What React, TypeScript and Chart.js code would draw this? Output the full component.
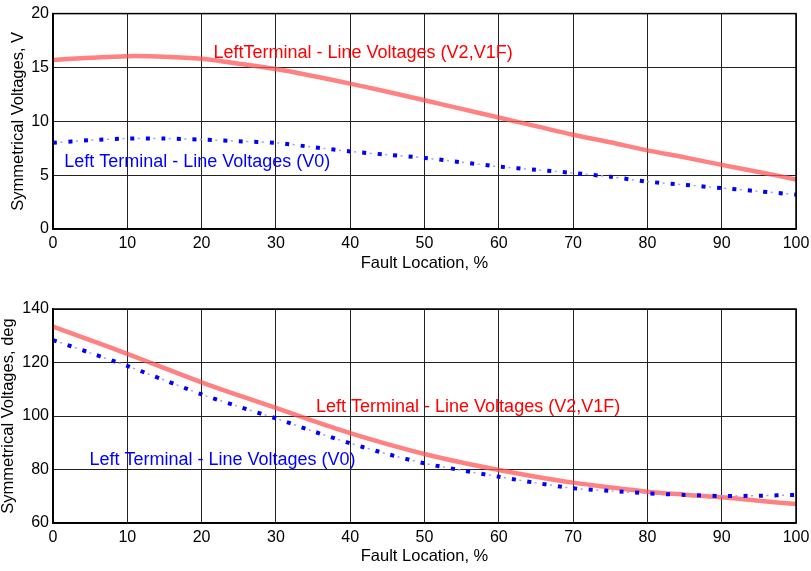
import React, { useEffect, useRef } from "react";
import { Chart, registerables } from "chart.js";

Chart.register(...registerables);

const faultLocation = [0, 5, 10, 15, 20, 25, 30, 35, 40, 45, 50, 55, 60, 65, 70, 75, 80, 85, 90, 95, 100];

const magV2V1F = [15.7, 15.9, 16.05, 16.0, 15.8, 15.35, 14.85, 14.2, 13.5, 12.75, 11.95, 11.15, 10.35, 9.55, 8.75, 8.05, 7.3, 6.65, 5.95, 5.3, 4.6];
const magV0 = [8.0, 8.25, 8.4, 8.4, 8.3, 8.15, 8.0, 7.6, 7.2, 6.9, 6.6, 6.2, 5.8, 5.5, 5.2, 4.85, 4.4, 4.1, 3.8, 3.5, 3.2];

const angV2V1F = [133.4, 128.4, 123.2, 117.9, 112.6, 107.7, 103.0, 98.2, 93.6, 89.5, 85.8, 82.6, 79.8, 77.3, 75.1, 73.3, 71.7, 70.6, 69.6, 68.3, 67.1];
const angV0 = [128.4, 123.6, 118.7, 113.4, 108.1, 103.5, 99.1, 94.3, 89.8, 85.8, 82.3, 79.7, 77.3, 75.0, 73.0, 72.0, 71.1, 70.5, 70.1, 70.2, 70.5];

const xTicks = [0, 10, 20, 30, 40, 50, 60, 70, 80, 90, 100];
const magTicks = [0, 5, 10, 15, 20];
const angTicks = [60, 80, 100, 120, 140];

const xTitle = "Fault Location, %";
const magTitle = "Symmetrical Voltages, V";
const angTitle = "Symmetrical Voltages, deg";

const topLabels = [
  { text: "LeftTerminal - Line Voltages (V2,V1F)", x: 21.6, y: 16.3, color: "#ff0000" },
  { text: "Left Terminal - Line Voltages (V0)", x: 1.5, y: 6.2, color: "#0000ff" },
];
const bottomLabels = [
  { text: "Left Terminal - Line Voltages (V2,V1F)", x: 35.4, y: 103.4, color: "#ff0000" },
  { text: "Left Terminal - Line Voltages (V0)", x: 4.9, y: 83.5, color: "#0000ff" },
];

const FONT = "'Liberation Sans', Arial, sans-serif";

const frameAndLabels = {
  id: "frameAndLabels",
  afterDatasetsDraw(chart: any, _args: any, opts: any) {
    const { ctx, chartArea, scales } = chart;
    ctx.save();
    ctx.strokeStyle = "#000";
    ctx.lineWidth = 1.5;
    ctx.strokeRect(chartArea.left, chartArea.top, chartArea.right - chartArea.left, chartArea.bottom - chartArea.top);
    ctx.font = `18px ${FONT}`;
    ctx.textAlign = "left";
    ctx.textBaseline = "middle";
    for (const l of opts.items || []) {
      ctx.fillStyle = l.color;
      ctx.fillText(l.text, scales.x.getPixelForValue(l.x), scales.y.getPixelForValue(l.y));
    }
    ctx.restore();
  },
};

function makeConfig(
  red: number[],
  blue: number[],
  yTicks: number[],
  yTitle: string,
  labels: any[],
  padTop: number,
  xHeight: number,
  xTitlePad: number,
  yTitlePad: number
): any {
  const pts = (arr: number[]) => faultLocation.map((x, i) => ({ x, y: arr[i] }));
  return {
    type: "line",
    data: {
      datasets: [
        {
          data: pts(blue),
          borderColor: "#9aa0ff",
          borderWidth: 1.5,
          borderDash: [2, 13.5],
          borderDashOffset: -7.5,
          pointRadius: 0,
          tension: 0.3,
        },
        {
          data: pts(blue),
          borderColor: "#0000ff",
          borderWidth: 4,
          borderDash: [4, 11.5],
          pointRadius: 0,
          tension: 0.3,
        },
        {
          data: pts(red),
          borderColor: "rgba(255,80,80,0.72)",
          borderWidth: 4.5,
          pointRadius: 0,
          tension: 0.3,
        },
      ],
    },
    options: {
      responsive: false,
      animation: false,
      devicePixelRatio: 1,
      layout: { padding: { top: padTop, right: 15, left: 0, bottom: 0 } },
      plugins: {
        legend: { display: false },
        tooltip: { enabled: false },
        frameAndLabels: { items: labels },
      },
      scales: {
        x: {
          type: "linear",
          min: 0,
          max: 100,
          afterBuildTicks: (s: any) => {
            s.ticks = xTicks.map((v) => ({ value: v }));
          },
          afterFit: (s: any) => {
            s.height = xHeight;
            s.paddingRight = 0;
          },
          ticks: { color: "#000", font: { family: FONT, size: 16 }, padding: 5, maxRotation: 0, autoSkip: false },
          grid: { color: "#222", lineWidth: 1, drawTicks: false },
          border: { display: true, color: "#000", width: 1.5 },
          title: { display: true, text: xTitle, color: "#000", font: { family: FONT, size: 16.5 }, padding: { top: 0, bottom: xTitlePad } },
        },
        y: {
          type: "linear",
          min: yTicks[0],
          max: yTicks[yTicks.length - 1],
          afterBuildTicks: (s: any) => {
            s.ticks = yTicks.map((v) => ({ value: v }));
          },
          afterFit: (s: any) => {
            s.width = 53;
          },
          ticks: { color: "#000", font: { family: FONT, size: 16 }, padding: 4, autoSkip: false },
          grid: { color: "#222", lineWidth: 1, drawTicks: false },
          border: { display: true, color: "#000", width: 1.5 },
          title: { display: true, text: yTitle, color: "#000", font: { family: FONT, size: 16.5 }, padding: { top: yTitlePad, bottom: 0 } },
        },
      },
    },
    plugins: [frameAndLabels],
  };
}

function Panel(props: { config: any; width: number; height: number; top: number }) {
  const ref = useRef<HTMLCanvasElement>(null);
  useEffect(() => {
    if (!ref.current) return;
    const chart = new Chart(ref.current, props.config);
    return () => chart.destroy();
  }, []);
  return (
    <canvas
      ref={ref}
      width={props.width}
      height={props.height}
      style={{ position: "absolute", left: 0, top: props.top, width: props.width, height: props.height }}
    />
  );
}

export default function App() {
  const topCfg = makeConfig(magV2V1F, magV0, magTicks, magTitle, topLabels, 13, 56, 12, 9);
  const botCfg = makeConfig(angV2V1F, angV0, angTicks, angTitle, bottomLabels, 24, 48, 5, -1);
  return (
    <div style={{ position: "absolute", left: 0, top: 0, width: 811, height: 571, background: "#fff" }}>
      <Panel config={topCfg} width={811} height={285} top={0} />
      <Panel config={botCfg} width={811} height={286} top={285} />
    </div>
  );
}
